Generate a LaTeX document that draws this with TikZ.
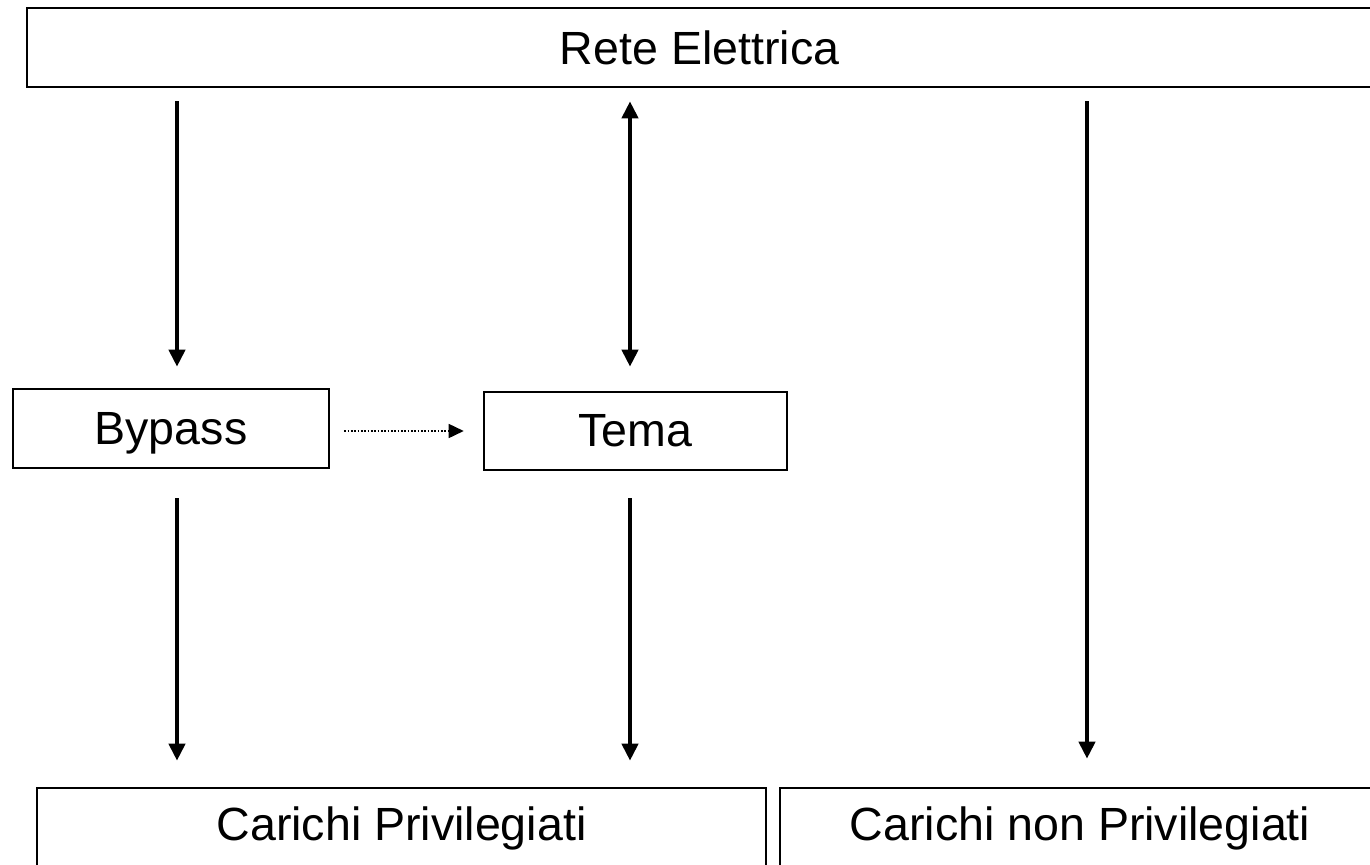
\documentclass[tikz,border=0pt]{standalone}
\usepackage{fontspec}
\setmainfont{Liberation Sans}
\usetikzlibrary{arrows.meta}
\begin{document}
\begin{tikzpicture}[x=0.02cm,y=-0.02cm,
      blk/.style={draw,line width=1.5pt,font=\fontsize{26.5}{30}\selectfont,inner sep=0pt},
      flow/.style={line width=2.3pt,-{Triangle[length=0.34cm,width=0.32cm]}},
      link/.style={densely dotted,line width=0.9pt,-{Triangle[length=0.3cm,width=0.28cm]}}]
   \useasboundingbox (0,0) rectangle (1370,865);
   \clip (0,0) rectangle (1370,865);
   % blocchi
   \node[blk,minimum width=26.9cm,minimum height=1.58cm] (rete) at (699.5,47.5) {Rete Elettrica};
   \node[blk,text depth=0pt,minimum width=6.32cm,minimum height=1.58cm] (bypass) at (171,428.5) {Bypass};
   \node[blk,minimum width=6.06cm,minimum height=1.56cm] (tema) at (635.5,431) {Tema};
   \node[blk,minimum width=14.58cm,minimum height=1.6cm] (priv) at (401.5,828) {Carichi Privilegiati};
   \node[blk,minimum width=12cm,minimum height=1.6cm] (nonpriv) at (1080,828) {Carichi non Privilegiati};
   % frecce
   \draw[flow,shorten <=0.26cm,shorten >=0.42cm] ([xshift=0.12cm]bypass.north |- rete.south) -- ([xshift=0.12cm]bypass.north);
   \draw[flow,{Triangle[length=0.34cm,width=0.32cm]}-{Triangle[length=0.34cm,width=0.32cm]},shorten <=0.26cm,shorten >=0.48cm] ([xshift=-0.11cm]tema.north |- rete.south) -- ([xshift=-0.11cm]tema.north);
   \draw[flow,shorten <=0.26cm,shorten >=0.56cm] ([xshift=0.14cm]nonpriv.north |- rete.south) -- ([xshift=0.14cm]nonpriv.north);
   \draw[flow,shorten <=0.58cm,shorten >=0.52cm] ([xshift=0.12cm]bypass.south) -- ([xshift=0.12cm]bypass.south |- priv.north);
   \draw[flow,shorten <=0.54cm,shorten >=0.52cm] ([xshift=-0.11cm]tema.south) -- ([xshift=-0.11cm]tema.south |- priv.north);
   \draw[link,shorten <=0.28cm,shorten >=0.38cm] (bypass.east |- tema.west) -- (tema.west);
\end{tikzpicture}
\end{document}
